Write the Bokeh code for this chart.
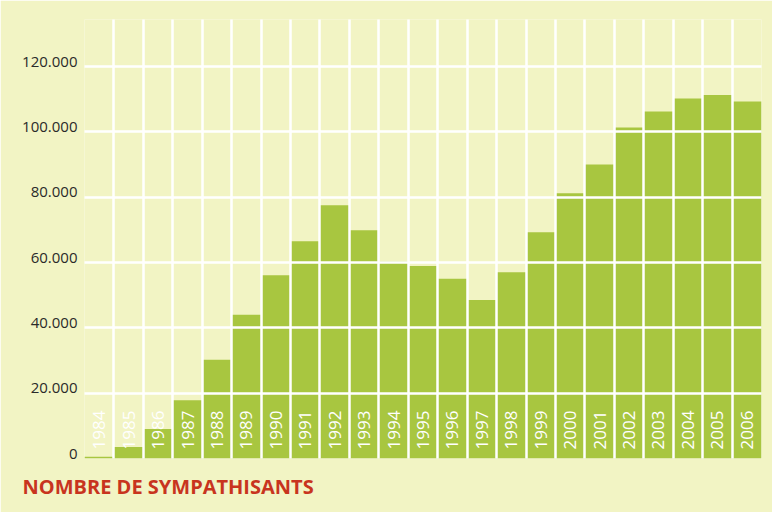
import math
from bokeh.plotting import figure
from bokeh.models import Range1d, FixedTicker, Grid, Title, ColumnDataSource, LinearAxis
from bokeh.core.properties import value
from bokeh.embed import file_html
from bokeh.resources import INLINE

# ---- data ----
years = [str(y) for y in range(1984, 2007)]
sympathisants = [500, 3500, 9000, 17800, 30200, 44000, 56100, 66500, 77500, 69900,
                 60300, 58900, 55000, 48500, 57000, 69300, 81200, 90000, 101300,
                 106200, 110200, 111300, 109300]
y_ticks = [0, 20000, 40000, 60000, 80000, 100000, 120000]
y_tick_labels = ["0", "20.000", "40.000", "60.000", "80.000", "100.000", "120.000"]
title_text = "NOMBRE DE SYMPATHISANTS"

BG = "#F2F4C4"
GREEN = "#A8C640"
RED = "#C8341E"

Y_MAX = 134400
LABEL_SHIFT = 1530  # lifts tick labels a few pixels above their grid lines

n = len(years)
src = ColumnDataSource(dict(
    x=[i + 0.5 for i in range(n)],
    top=sympathisants,
    label=years,
    ly=[2750] * n,
))

p = figure(width=772, height=512, output_backend="svg", toolbar_location=None,
           x_range=Range1d(0, n), y_range=Range1d(0, Y_MAX),
           y_axis_location=None,
           min_border_left=84, min_border_right=11, min_border_top=19,
           min_border_bottom=10,
           background_fill_color=BG, border_fill_color=BG,
           outline_line_color=None)
p.xaxis.visible = False
p.grid.visible = False
p.extra_y_ranges = {"labels": Range1d(-LABEL_SHIFT, Y_MAX - LABEL_SHIFT)}

p.vbar(x="x", top="top", width=1, source=src, fill_color=GREEN, line_color=None)

p.add_layout(Grid(dimension=0, ticker=FixedTicker(ticks=list(range(n + 1))),
                  grid_line_color="white", grid_line_width=2.5, level="overlay"))
p.add_layout(Grid(dimension=1, ticker=FixedTicker(ticks=y_ticks),
                  grid_line_color="white", grid_line_width=2.5, level="overlay"))

p.text(x="x", y="ly", text="label", source=src, angle=math.pi / 2,
       text_align="left", text_baseline="middle", text_color="white",
       text_font=value("Open Sans"), text_font_size="17px")

yax = LinearAxis(y_range_name="labels", ticker=FixedTicker(ticks=y_ticks))
yax.major_label_overrides = {t: l for t, l in zip(y_ticks, y_tick_labels)}
yax.axis_line_color = None
yax.major_tick_line_color = None
yax.minor_tick_line_color = None
yax.major_tick_out = 0
yax.major_tick_in = 0
yax.major_label_standoff = 7
yax.major_label_text_font = "Open Sans"
yax.major_label_text_font_size = "15px"
yax.major_label_text_color = "#2a2a2a"
p.add_layout(yax, "left")

p.add_layout(Title(text=title_text, text_color=RED, text_font="Open Sans",
                   text_font_style="bold", text_font_size="20px",
                   align="left", offset=-62, standoff=25), "below")

open("out.html", "w").write(file_html(p, INLINE))
